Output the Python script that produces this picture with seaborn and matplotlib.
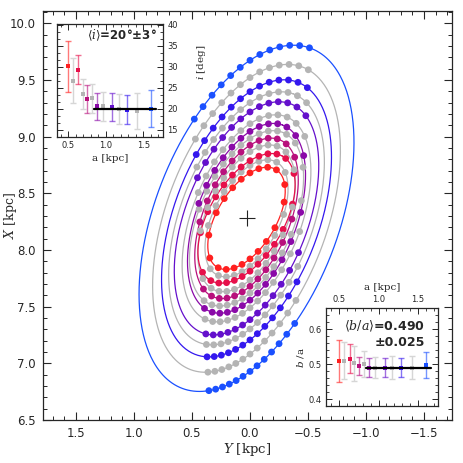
import numpy as np
import matplotlib.pyplot as plt
import seaborn as sns
from matplotlib.ticker import MultipleLocator, AutoMinorLocator

# ellipse fits, innermost -> outermost
a_kpc = [0.50, 0.56, 0.63, 0.69, 0.75, 0.82, 0.88, 0.96, 1.08, 1.17, 1.28, 1.42, 1.60]
incl_deg = [30.1, 26.7, 29.3, 23.6, 22.3, 22.5, 20.6, 20.6, 20.4, 20.0, 19.8, 19.5, 20.0]
incl_err = [6.0, 5.3, 3.5, 3.6, 3.4, 3.5, 3.2, 3.4, 3.3, 3.5, 3.5, 4.2, 4.4]
b_over_a = [0.509, 0.509, 0.516, 0.502, 0.495, 0.500, 0.490, 0.490, 0.490, 0.490, 0.490, 0.490, 0.497]
b_over_a_err = [0.061, 0.053, 0.041, 0.049, 0.026, 0.038, 0.027, 0.030, 0.027, 0.034, 0.027, 0.034, 0.038]
ring_colors = ['#ff2020', '#b4b4b4', '#e6104a', '#b4b4b4', '#b8107c', '#b4b4b4', '#8a0aa8',
               '#b4b4b4', '#6410cc', '#b4b4b4', '#3418ee', '#b4b4b4', '#1a50ff']

# centre of the ellipses (Y, X) in kpc
center_Y = 0.03
center_X = 8.28

# lines of sight where the density peaks were measured
longitudes = [-3.0, -2.5, -2.0, -1.5, -1.0, -0.5, 0.0, 0.5, 1.0, 1.5, 2.0, 2.5, 3.0]

mean_i, mean_i_err = 20, 3
mean_ba, mean_ba_err = 0.490, 0.025
mean_a_range = [0.84, 1.67]

GREY_BAR = '#d6d6d6'


def ellipse_curve(a, q, inc):
    t = np.linspace(0, 2 * np.pi, 400)
    b = a * q
    i = np.radians(inc)
    Y = center_Y - a * np.cos(t) * np.sin(i) + b * np.sin(t) * np.cos(i)
    X = center_X + a * np.cos(t) * np.cos(i) + b * np.sin(t) * np.sin(i)
    return Y, X


def los_hits(a, q, inc, lon):
    """near and far crossing of a line of sight from the Sun with one ellipse"""
    b = a * q
    i = np.radians(inc)
    l = np.radians(lon)
    du = -np.sin(l) * np.sin(i) + np.cos(l) * np.cos(i)
    dv = np.sin(l) * np.cos(i) + np.cos(l) * np.sin(i)
    cu = -center_Y * np.sin(i) + center_X * np.cos(i)
    cv = center_Y * np.cos(i) + center_X * np.sin(i)
    A = du**2 / a**2 + dv**2 / b**2
    B = -2 * (du * cu / a**2 + dv * cv / b**2)
    C = cu**2 / a**2 + cv**2 / b**2 - 1
    disc = B**2 - 4 * A * C
    if disc < 0:
        return []
    out = []
    for s in ((-B - np.sqrt(disc)) / (2 * A), (-B + np.sqrt(disc)) / (2 * A)):
        out.append((s * np.sin(l), s * np.cos(l)))
    return out


sns.set_theme(style='ticks')
plt.rcParams['font.family'] = ['DejaVu Sans']
plt.rcParams['mathtext.fontset'] = 'dejavuserif'
plt.rcParams['axes.linewidth'] = 0.9

fig = plt.figure(figsize=(4.63, 4.63), dpi=100)
ax = fig.add_axes([43 / 463, 1 - 420 / 463, 409 / 463, 409 / 463])

for k in range(len(a_kpc))[::-1]:
    Y, X = ellipse_curve(a_kpc[k], b_over_a[k], incl_deg[k])
    sns.lineplot(x=Y, y=X, sort=False, estimator=None, color=ring_colors[k], lw=0.9, ax=ax, zorder=2)
for k in range(len(a_kpc)):
    pts = []
    for lon in longitudes:
        pts += los_hits(a_kpc[k], b_over_a[k], incl_deg[k], lon)
    pts = np.array(pts)
    sns.scatterplot(x=pts[:, 0], y=pts[:, 1], color=ring_colors[k], s=24, edgecolor='none',
                    linewidth=0, ax=ax, zorder=3)

ax.plot(center_Y, center_X, marker='+', ms=11, mew=0.8, color='#222222', zorder=4)

ax.set_xlim(1.784, -1.741)
ax.set_ylim(6.5, 10.11)
ax.xaxis.set_major_locator(MultipleLocator(0.5))
ax.xaxis.set_minor_locator(MultipleLocator(0.1))
ax.yaxis.set_major_locator(MultipleLocator(0.5))
ax.yaxis.set_minor_locator(MultipleLocator(0.1))
ax.tick_params(which='both', direction='in', top=True, right=True, labelsize=8.5, pad=5)
ax.tick_params(which='major', length=6, width=0.8)
ax.tick_params(which='minor', length=3, width=0.7)
ax.set_xlabel(r'$Y$ [kpc]', family='DejaVu Serif', fontsize=9.5, labelpad=1)
ax.set_ylabel(r'$X$ [kpc]', family='DejaVu Serif', fontsize=9)
ax.yaxis.set_label_coords(-0.058, 0.5)

# inset: inclination vs semi-major axis
ax1 = fig.add_axes([57 / 463, 1 - 137 / 463, 106 / 463, 113 / 463])
for k in range(len(a_kpc)):
    grey = ring_colors[k] == '#b4b4b4'
    ax1.errorbar(a_kpc[k], incl_deg[k], yerr=incl_err[k], fmt='none',
                 ecolor=GREY_BAR if grey else ring_colors[k], alpha=1 if grey else 0.6,
                 elinewidth=1.0, capsize=2, capthick=1.0, zorder=2)
    ax1.plot(a_kpc[k], incl_deg[k], 's', ms=3.2, color=ring_colors[k], mew=0, zorder=3)
ax1.plot(mean_a_range, [mean_i, mean_i], color='black', lw=1.6, zorder=4)
ax1.set_xlim(0.35, 1.76)
ax1.set_ylim(13.3, 40.2)
ax1.xaxis.set_major_locator(MultipleLocator(0.5))
ax1.xaxis.set_minor_locator(MultipleLocator(0.1))
ax1.yaxis.set_major_locator(MultipleLocator(5))
ax1.yaxis.set_minor_locator(AutoMinorLocator(3))
ax1.tick_params(which='both', direction='in', top=True, right=True, left=True,
                labelleft=False, labelright=True, labelsize=6, pad=3)
ax1.tick_params(which='major', length=4, width=0.7)
ax1.tick_params(which='minor', length=2, width=0.6)
ax1.set_xlabel('a [kpc]', family='DejaVu Serif', fontsize=7.5, labelpad=3)
ax1.yaxis.set_label_position('right')
ax1.set_ylabel(r'$i$ [deg]', family='DejaVu Serif', fontsize=7.5)
ax1.yaxis.set_label_coords(1.3, 0.66)
ax1.text(0.945, 0.965, r'$\langle i\rangle$=%d°±%d°' % (mean_i, mean_i_err), transform=ax1.transAxes,
         ha='right', va='top', fontsize=8.5, fontweight='bold')

# inset: axis ratio vs semi-major axis
ax2 = fig.add_axes([326 / 463, 1 - 406 / 463, 112.3 / 463, 97.7 / 463])
for k in range(len(a_kpc)):
    grey = ring_colors[k] == '#b4b4b4'
    ax2.errorbar(a_kpc[k], b_over_a[k], yerr=b_over_a_err[k], fmt='none',
                 ecolor=GREY_BAR if grey else ring_colors[k], alpha=1 if grey else 0.6,
                 elinewidth=1.0, capsize=2, capthick=1.0, zorder=2)
    ax2.plot(a_kpc[k], b_over_a[k], 's', ms=3.2, color=ring_colors[k], mew=0, zorder=3)
ax2.plot(mean_a_range, [mean_ba, mean_ba], color='black', lw=1.6, zorder=4)
ax2.set_xlim(0.33, 1.76)
ax2.set_ylim(0.38, 0.66)
ax2.xaxis.set_major_locator(MultipleLocator(0.5))
ax2.xaxis.set_minor_locator(MultipleLocator(0.1))
ax2.yaxis.set_major_locator(MultipleLocator(0.1))
ax2.yaxis.set_minor_locator(MultipleLocator(0.02))
ax2.tick_params(which='both', direction='in', top=True, right=True, bottom=True,
                labeltop=True, labelbottom=False, labelsize=6, pad=3)
ax2.tick_params(which='major', length=4, width=0.7)
ax2.tick_params(which='minor', length=2, width=0.6)
ax2.xaxis.set_label_position('top')
ax2.set_xlabel('a [kpc]', family='DejaVu Serif', fontsize=7.5, labelpad=4)
ax2.set_ylabel(r'$b$ /a', family='DejaVu Serif', fontsize=7.5, labelpad=2)
ax2.text(0.88, 0.89, r'$\langle b/a\rangle$=%.3f' % mean_ba + '\n' + '±%.3f' % mean_ba_err,
         transform=ax2.transAxes, ha='right', va='top', fontsize=9, fontweight='bold',
         multialignment='right', linespacing=1.15)

fig.savefig('out.png', dpi=100)
